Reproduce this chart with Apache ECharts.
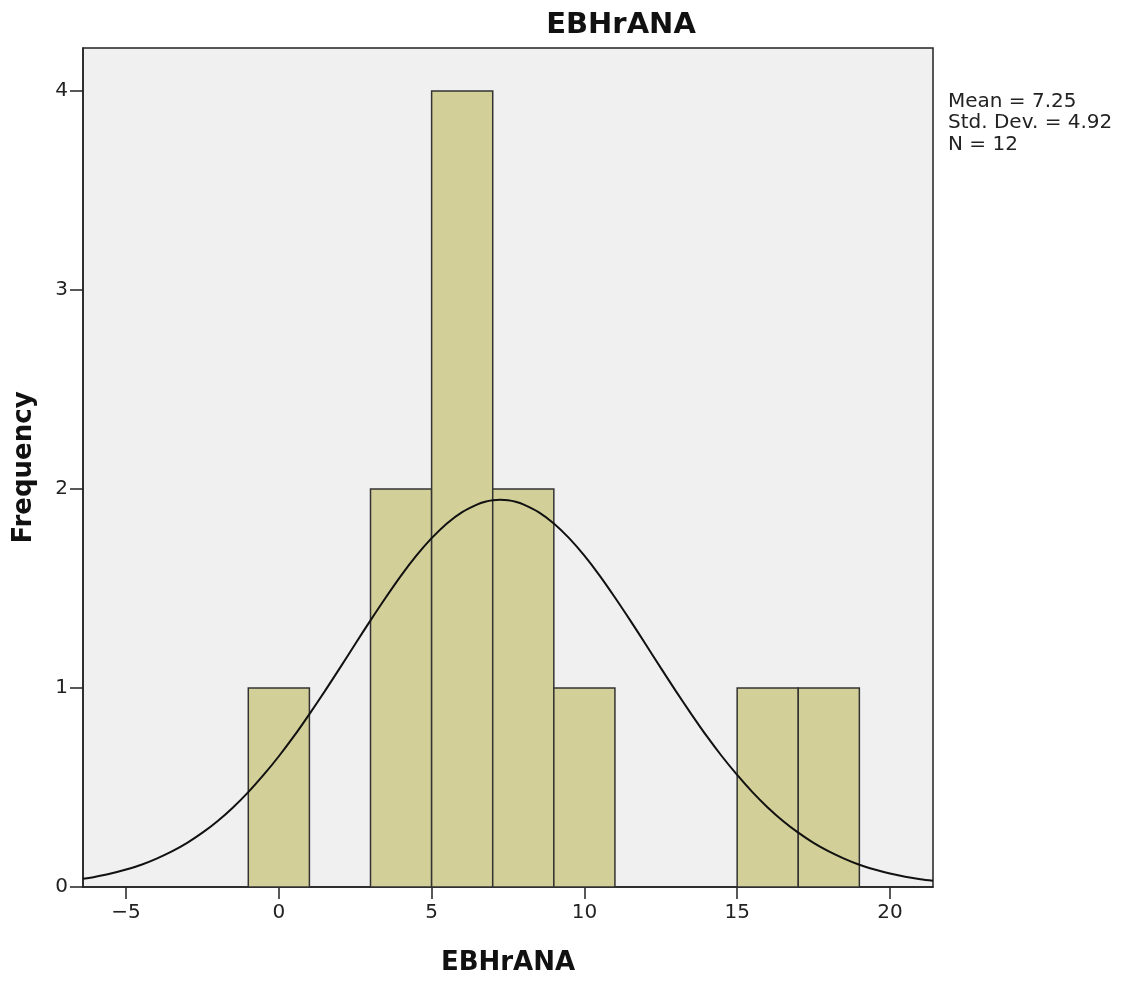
<!DOCTYPE html>
<html><head><meta charset="utf-8">
<script src="https://cdn.jsdelivr.net/npm/echarts@6/dist/echarts.min.js"></script>
<style>html,body{margin:0;padding:0;background:#fff}#c{width:1128px;height:982px}</style>
</head><body><div id="c"></div>
<script>
// Histogram bins: [start, end, frequency]
const binStarts = [-1, 3, 5, 7, 9, 15, 17];
const binEnds   = [1, 5, 7, 9, 11, 17, 19];
const binCounts = [1, 2, 4, 2, 1, 1, 1];
// Normal curve readings (x, frequency)
const curveX = [-6.41, -6, -5.5, -5, -4.5, -4, -3.5, -3, -2.5, -2, -1.5, -1, -0.5, 0, 0.5, 1, 1.5, 2, 2.5, 3, 3.5, 4, 4.5, 5, 5.5, 6, 6.5, 6.75, 7, 7.25, 7.5, 7.75, 8, 8.5, 9, 9.5, 10, 10.5, 11, 11.5, 12, 12.5, 13, 13.5, 14, 14.5, 15, 15.5, 16, 16.5, 17, 17.5, 18, 18.5, 19, 19.5, 20, 20.5, 21, 21.41];
const curveY = [0.041, 0.052, 0.068, 0.088, 0.112, 0.143, 0.179, 0.222, 0.273, 0.332, 0.400, 0.477, 0.563, 0.657, 0.759, 0.869, 0.983, 1.101, 1.221, 1.340, 1.455, 1.565, 1.665, 1.753, 1.827, 1.884, 1.923, 1.936, 1.9435, 1.946, 1.9435, 1.936, 1.923, 1.884, 1.827, 1.753, 1.665, 1.565, 1.455, 1.340, 1.221, 1.101, 0.983, 0.869, 0.759, 0.657, 0.563, 0.477, 0.400, 0.332, 0.273, 0.222, 0.179, 0.143, 0.112, 0.088, 0.068, 0.052, 0.039, 0.031];
const xTicks = [-5, 0, 5, 10, 15, 20];
const yTicks = [0, 1, 2, 3, 4];
const statsLines = ['Mean = 7.25', 'Std. Dev. = 4.92', 'N = 12'];

const chart = echarts.init(document.getElementById('c'));
const FONT = 'DejaVu Sans';
chart.setOption({
  animation: false,
  backgroundColor: '#fff',
  title: {
    text: 'EBHrANA', left: 616, top: 6, textAlign: 'center',
    textStyle: {fontFamily: FONT, fontWeight: 'bold', fontSize: 29, color: '#111'}
  },
  graphic: [{
    type: 'text', left: 948, top: 91,
    style: {text: statsLines.join('\n'), font: '20px ' + FONT, fill: '#222', lineHeight: 21.5}
  }],
  grid: {left: 83, right: 195, top: 48, bottom: 95, show: true, backgroundColor: '#f0f0f0', borderColor: '#222', borderWidth: 1.5},
  xAxis: {
    type: 'value', min: -6.41, max: 21.41,
    name: 'EBHrANA', nameLocation: 'middle', nameGap: 63,
    nameTextStyle: {fontFamily: FONT, fontWeight: 'bold', fontSize: 26, color: '#111'},
    axisLine: {show: true, onZero: false, lineStyle: {color: '#222', width: 1.5}},
    axisTick: {show: true, length: 12, lineStyle: {color: '#222', width: 1.5}, customValues: xTicks},
    axisLabel: {fontFamily: FONT, fontSize: 20, color: '#222', margin: 16, customValues: xTicks, formatter: v => (v < 0 ? '\u2212' + Math.abs(v) : String(v))},
    splitLine: {show: false}
  },
  yAxis: {
    type: 'value', min: 0, max: 4.216,
    name: 'Frequency', nameLocation: 'middle', nameGap: 46, nameRotate: 90,
    nameTextStyle: {fontFamily: FONT, fontWeight: 'bold', fontSize: 26, color: '#111'},
    axisLine: {show: true, onZero: false, lineStyle: {color: '#222', width: 1.5}},
    axisTick: {show: true, length: 13, lineStyle: {color: '#222', width: 1.5}, customValues: yTicks},
    axisLabel: {fontFamily: FONT, fontSize: 20, color: '#222', margin: 15, customValues: yTicks},
    splitLine: {show: false}
  },
  series: [{
    type: 'custom',
    data: binStarts.map((s, i) => [s, binEnds[i], binCounts[i]]),
    renderItem: function (params, api) {
      const p0 = api.coord([api.value(0), 0]);
      const p1 = api.coord([api.value(1), api.value(2)]);
      return {
        type: 'rect',
        shape: {x: p0[0], y: p1[1], width: p1[0] - p0[0], height: p0[1] - p1[1]},
        style: {fill: '#d3cf98', stroke: '#333', lineWidth: 1.5}
      };
    },
    z: 2
  }, {
    type: 'line', data: curveX.map((x, i) => [x, curveY[i]]),
    smooth: 0.3, showSymbol: false, symbol: 'none',
    lineStyle: {color: '#111', width: 2}, z: 3
  }]
});
</script></body></html>
